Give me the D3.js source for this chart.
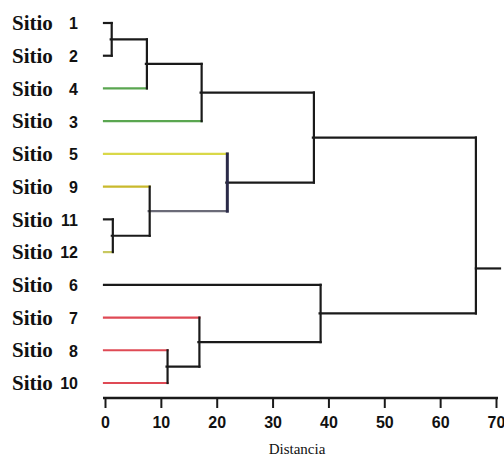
<!DOCTYPE html>
<html>
<head>
<meta charset="utf-8">
<script src="https://cdn.jsdelivr.net/npm/d3@7"></script>
<style>
  body{margin:0;background:#fff;}
  svg{display:block;}
</style>
</head>
<body>
<div id="chart"></div>
<script>
// leaf order (top to bottom) and the colour of each leaf's line
var leafIds    = ["1","2","4","3","5","9","11","12","6","7","8","10"];
var leafColors = ["#1a1a1a","#1a1a1a","#5aa650","#5aa650","#d9d848","#c9b92c",
                  "#1a1a1a","#c8c860","#1a1a1a","#df4a55","#df4a55","#df4a55"];
// merges: [id, left child, right child, distance]
var merges = [
    ["c1","1","2",1.2],
    ["c2","c1","4",7.5],
    ["c3","c2","3",17.3],
    ["c4","11","12",1.4],
    ["c5","9","c4",8.0],
    ["c6","5","c5",21.9],
    ["c7","c3","c6",37.4],
    ["c8","8","10",11.2],
    ["c9","7","c8",16.9],
    ["c10","6","c9",38.6],
    ["c11","c7","c10",66.4]
];
var xTicks = [0,10,20,30,40,50,60,70];

var width=504, height=458;
var ink="#1a1a1a";

var svg=d3.select("#chart").append("svg")
    .attr("width",width).attr("height",height);

var x=d3.scaleLinear().domain([0,70]).range([105,496]);
var y=d3.scalePoint().domain(leafIds).range([23,383]);

// build node table
var nodes={};
leafIds.forEach(function(id,i){
    nodes[id]={id:id,h:0,y:y(id),color:leafColors[i],leaf:true};
});
merges.forEach(function(m){
    var l=nodes[m[1]], r=nodes[m[2]];
    nodes[m[0]]={id:m[0],h:m[3],y:(l.y+r.y)/2,left:l,right:r,color:ink};
    l.parent=nodes[m[0]]; r.parent=nodes[m[0]];
});
// a couple of branch colours seen in the picture
nodes["c5"].color="#6b6b78";
nodes["c6"].barColor="#2a2a48";

var g=svg.append("g").attr("fill","none").attr("stroke-width",2.2).attr("stroke-linecap","square");

// horizontal segments: from each node to its parent's height
Object.keys(nodes).forEach(function(k){
    var n=nodes[k];
    if(!n.parent) return;
    g.append("line")
        .attr("x1",x(n.h)-1).attr("x2",x(n.parent.h))
        .attr("y1",n.y).attr("y2",n.y)
        .attr("stroke",n.color);
});
// vertical bars at each merge
merges.forEach(function(m){
    var n=nodes[m[0]];
    g.append("line")
        .attr("x1",x(n.h)).attr("x2",x(n.h))
        .attr("y1",n.left.y).attr("y2",n.right.y)
        .attr("stroke",n.barColor||ink)
        .attr("stroke-width",n.barColor?3:2.2);
});
// root stub, drawn between the two main groups
var root=nodes["c11"];
var stubY=(y("12")+y("6"))/2;
g.append("line")
    .attr("x1",x(root.h)).attr("x2",x(70)+4)
    .attr("y1",stubY).attr("y2",stubY)
    .attr("stroke",ink);

// leaf labels
var labels=svg.append("g");
leafIds.forEach(function(id){
    var t=labels.append("g").attr("transform","translate(0,"+y(id)+")");
    t.append("text")
        .attr("x",12).attr("dy","0.34em")
        .style("font-family","'Liberation Serif','Times New Roman',serif")
        .style("font-weight","bold").style("font-size","21px")
        .attr("fill","#111")
        .text("Sitio");
    t.append("text")
        .attr("x",78).attr("dy","0.4em")
        .attr("text-anchor","end")
        .style("font-family","'Liberation Sans',Arial,sans-serif")
        .style("font-weight","bold").style("font-size","16px")
        .attr("fill","#111")
        .text(id);
});

// x axis
var axis=svg.append("g")
    .attr("transform","translate(0,398)")
    .call(d3.axisBottom(x).tickValues(xTicks).tickSizeInner(10).tickSizeOuter(0).tickPadding(9));
axis.select(".domain").attr("stroke",ink).attr("stroke-width",2.5)
    .attr("d","M"+(x(0)-2)+",0H"+(x(70)+2));
axis.selectAll(".tick line").attr("stroke",ink).attr("stroke-width",2);
axis.selectAll(".tick text")
    .style("font-family","'Liberation Sans',Arial,sans-serif")
    .style("font-weight","bold").style("font-size","16px")
    .attr("fill","#111");

svg.append("text")
    .attr("x",297).attr("y",454)
    .attr("text-anchor","middle")
    .style("font-family","'Liberation Serif','Times New Roman',serif")
    .style("font-size","15px")
    .attr("fill","#111")
    .text("Distancia");
</script>
</body>
</html>
